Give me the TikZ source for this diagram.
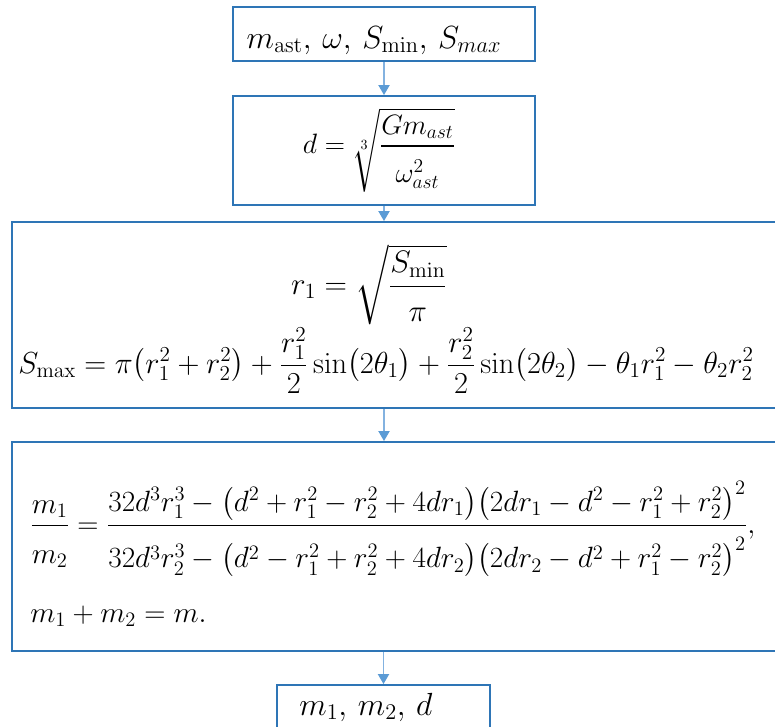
\RequirePackage{fix-cm}
\documentclass[tikz,border=0pt]{standalone}
\usepackage{amsmath}
\usetikzlibrary{arrows.meta, positioning, fit}
\definecolor{boxcolor}{RGB}{46,117,182}
\definecolor{linkcolor}{RGB}{131,178,224}
\definecolor{tipcolor}{RGB}{91,155,213}
\tikzset{
  stepbox/.style={draw=boxcolor, line width=1.5pt, fill=white, inner sep=0pt},
  link/.style={-{Triangle[length=7.5pt, width=8.5pt, color=tipcolor, fill=tipcolor]},
               line width=0.8pt, draw=linkcolor},
  eqtext/.style={inner sep=0pt, anchor=base, font=\fontsize{#1}{#1}\selectfont},
}
\newcommand{\lowden}[1]{\rule{0pt}{#1}}

\begin{document}
\begin{tikzpicture}[x=0.75pt, y=-0.75pt]
  \useasboundingbox (0,0) rectangle (775,726);
  \clip (0,0) rectangle (775,726);

  % boxes
  \node[stepbox, fit={(233,7) (535,61)}] (input) {};
  \node[stepbox, fit={(233,96) (535,205)}] (dist) {};
  \node[stepbox, fit={(12,222) (795,408)}] (radii) {};
  \node[stepbox, fit={(12,442) (795,651)}] (masses) {};
  \node[stepbox, fit={(277,685) (490,745)}] (output) {};

  % formulas
  \node[eqtext=24] at (374,48) (inputeq)
    {$m_{\mathrm{ast}},\, \omega,\, S_{\min},\, S_{max}$};

  \node[eqtext=21] at (379,153) (disteq)
    {$d=\sqrt[3]{\dfrac{Gm_{ast}}{\lowden{1.15em}\omega_{ast}^2}}$};

  \node[eqtext=23.3] at (369,294) (rone)
    {$r_1=\sqrt{\dfrac{S_{\min}}{\lowden{1em}\pi}}$};
  \node[eqtext=22.8, anchor=base west] at (18,373) (smax)
    {$S_{\max}=\pi\bigl(r_1^2+r_2^2\bigr)+\dfrac{r_1^2}{2}\sin\bigl(2\theta_1\bigr)
      +\dfrac{r_2^2}{2}\sin\bigl(2\theta_2\bigr)-\theta_1r_1^2-\theta_2r_2^2$};

  \node[eqtext=22, anchor=base west] at (30,533) (ratio)
    {$\dfrac{m_1}{\lowden{1.16em}m_2}=\dfrac{32d^3r_1^3-\bigl(d^2+r_1^2-r_2^2+4dr_1\bigr)\bigl(2dr_1-d^2-r_1^2+r_2^2\bigr)^2}
      {\lowden{1.3em}32d^3r_2^3-\bigl(d^2-r_1^2+r_2^2+4dr_2\bigr)\bigl(2dr_2-d^2+r_1^2-r_2^2\bigr)^2},$};
  \node[eqtext=22, anchor=base west] at (30,622) (total)
    {$m_1+m_2=m.$};

  \node[eqtext=24] at (366,715) (outputeq)
    {$m_1,\, m_2,\, d$};

  % arrows
  \draw[link] (input) -- (dist);
  \draw[link] (dist.south) -- (dist.south |- radii.north);
  \draw[link] (dist.south |- radii.south) -- (dist.south |- masses.north);
  \draw[link] (output.north |- masses.south) -- (output.north);

\end{tikzpicture}
\end{document}
